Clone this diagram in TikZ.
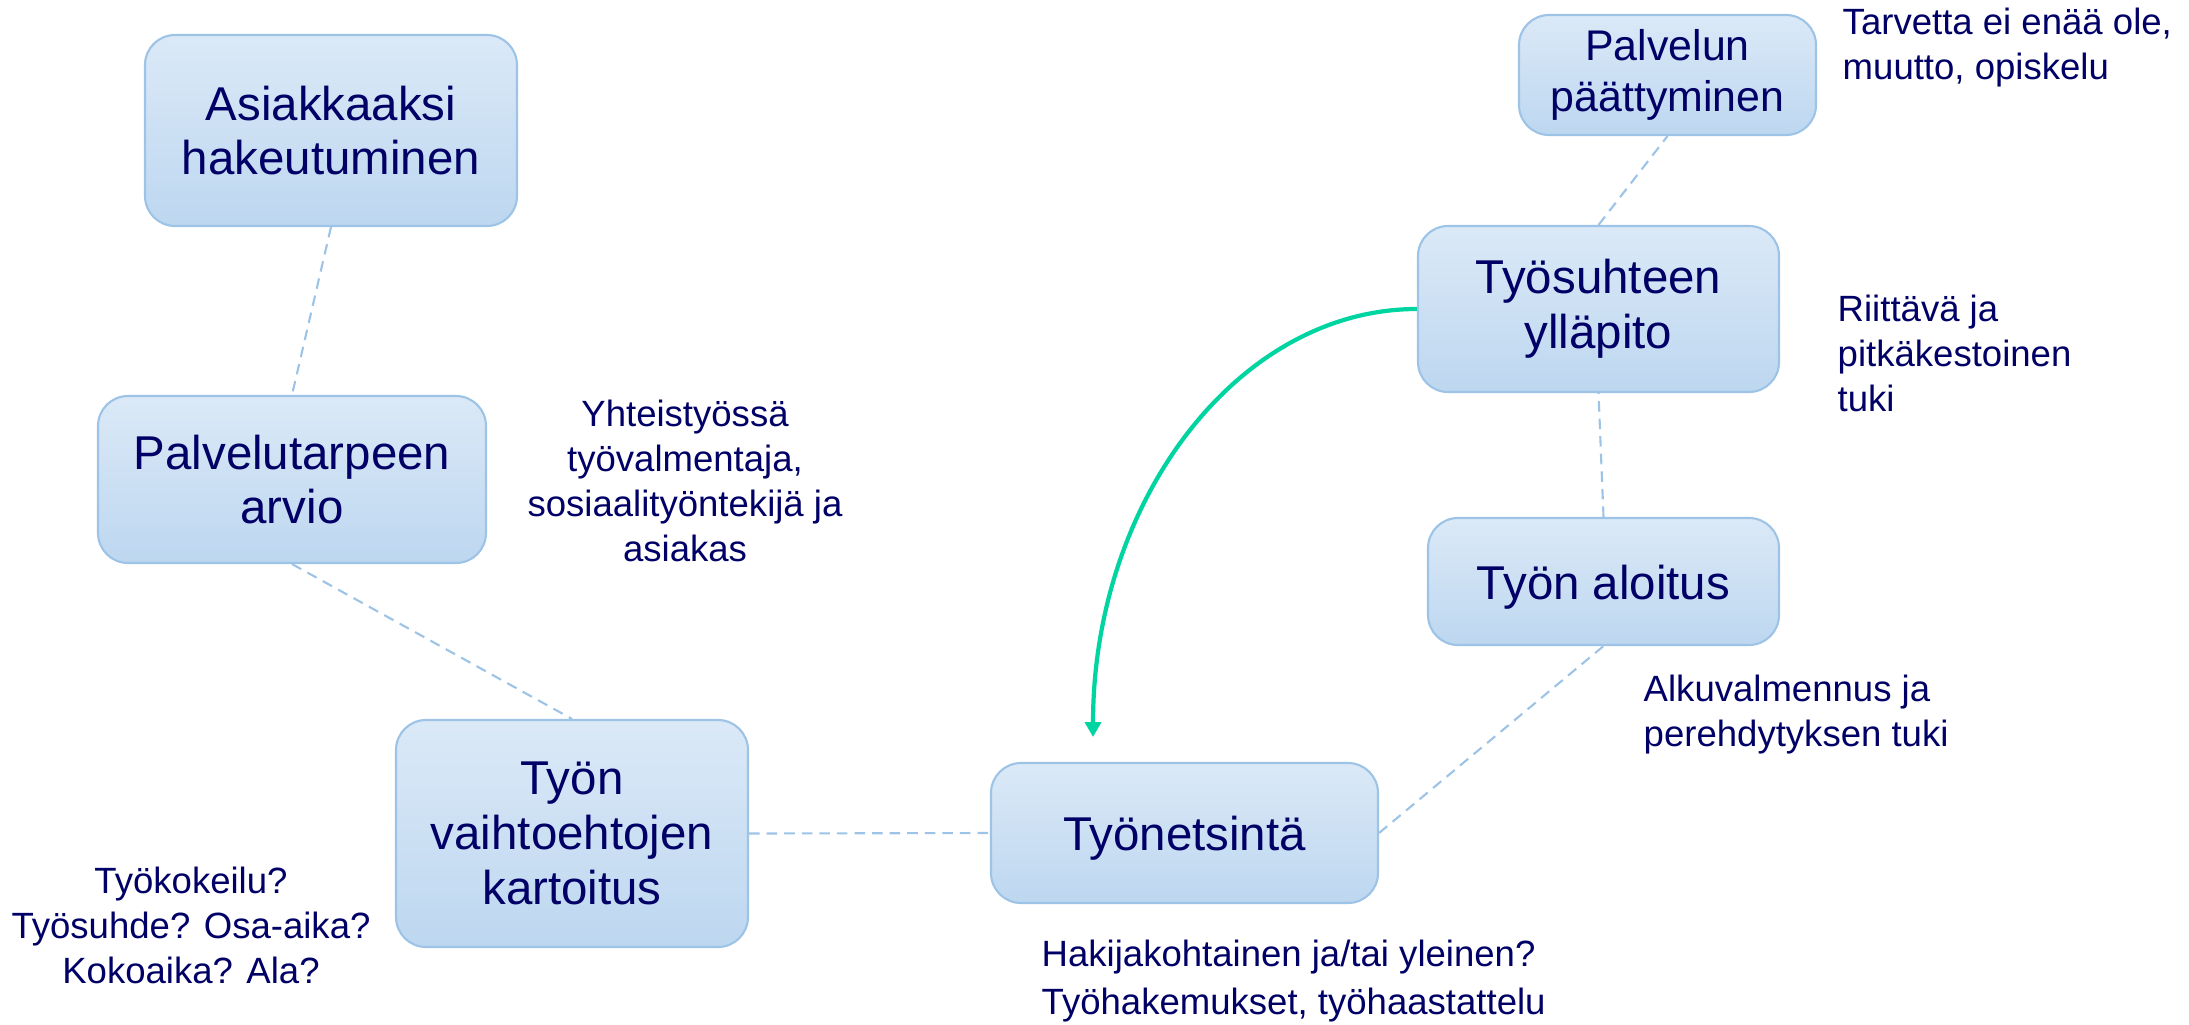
\documentclass[tikz,border=0pt]{standalone}
\usepackage{fontspec}
\setmainfont{Liberation Sans}
\usepackage{tikz}
\usetikzlibrary{calc,positioning,arrows.meta}
\definecolor{navy}{RGB}{0,0,102}
\definecolor{boxtop}{RGB}{219,233,247}
\definecolor{boxbot}{RGB}{189,215,240}
\definecolor{boxline}{RGB}{157,195,230}
\definecolor{turq}{RGB}{0,212,160}
\tikzset{
	phase/.style={draw=boxline, line width=0.6pt, rounded corners=0.3cm, top color=boxtop, bottom color=boxbot, text=navy, align=center, font=\fontsize{13.5}{15.6}\selectfont, inner sep=0pt, execute at begin node={\rule{0pt}{13pt}}},
	note/.style={text=navy, font=\fontsize{10.4}{12.8}\selectfont, inner sep=0pt},
	link/.style={draw=boxline, line width=0.6pt, dash pattern=on 3pt off 2pt}
}

\begin{document}
\begin{tikzpicture}
			\useasboundingbox (0,0) rectangle (21.89,10.24);
			\coordinate (h) at(3.31,8.935);
			\coordinate (p) at(2.92,5.445);
			\coordinate (k) at(5.72,1.905);
			\coordinate (e) at(11.845,1.91);
			\coordinate (a) at(16.035,4.425);
			\coordinate (y) at(15.985,7.15);
			\coordinate (l) at(16.675,9.49);
			\coordinate (tip) at(10.93,2.87);
			\node[phase, minimum width=3.72cm, minimum height=1.91cm] (hak) at(h) {Asiakkaaksi\\hakeutuminen};
			\node[phase, minimum width=3.88cm, minimum height=1.67cm] (arv) at(p) {Palvelutarpeen\\arvio};
			\node[phase, minimum width=3.52cm, minimum height=2.27cm] (kar) at(k) {Työn\\vaihtoehtojen\\kartoitus};
			\node[phase, minimum width=3.87cm, minimum height=1.40cm] (ets) at(e) {Työnetsintä};
			\node[phase, minimum width=3.51cm, minimum height=1.27cm] (alo) at(a) {Työn aloitus};
			\node[phase, minimum width=3.61cm, minimum height=1.66cm] (yll) at(y) {Työsuhteen\\ylläpito};
			\node[phase, minimum width=2.97cm, minimum height=1.20cm, font=\fontsize{12.2}{14.4}\selectfont] (paa) at(l) {Palvelun\\päättyminen};
			\draw[link] (hak.south)--(arv.north);
			\draw[link] (arv.south)--(kar.north);
			\draw[link] (kar.east)--(ets.west);
			\draw[link] (ets.east)--(alo.south);
			\draw[link] (alo.north)--(yll.south);
			\draw[link] (yll.north)--(paa.south);
			\draw[turq, line width=1.2pt, -{Triangle[width=0.16cm,length=0.15cm]}] (yll.west) .. controls +(-1.79,0) and +(0,2.36) .. (tip);
			\node[note, anchor=west, align=left] (t1) at(18.42,9.76) {Tarvetta ei enää ole,\\muutto, opiskelu};
			\node[note, anchor=west, align=left] (t2) at(18.37,6.71) {Riittävä ja\\pitkäkestoinen\\tuki};
			\node[note, align=center] (t3) at(6.85,5.43) {Yhteistyössä\\työvalmentaja,\\sosiaalityöntekijä ja\\asiakas};
			\node[note, anchor=west, align=left] (t4) at(16.43,3.09) {Alkuvalmennus ja\\perehdytyksen tuki};
			\node[note, align=center] (t5) at(1.91,0.99) {Työkokeilu?\\Työsuhde? Osa-aika?\\Kokoaika? Ala?};
			\node[note, anchor=west, align=left, font=\fontsize{10.4}{13.4}\selectfont] (t6) at(10.41,0.43) {Hakijakohtainen ja/tai yleinen?\\Työhakemukset, työhaastattelu};
		\end{tikzpicture}
\end{document}
